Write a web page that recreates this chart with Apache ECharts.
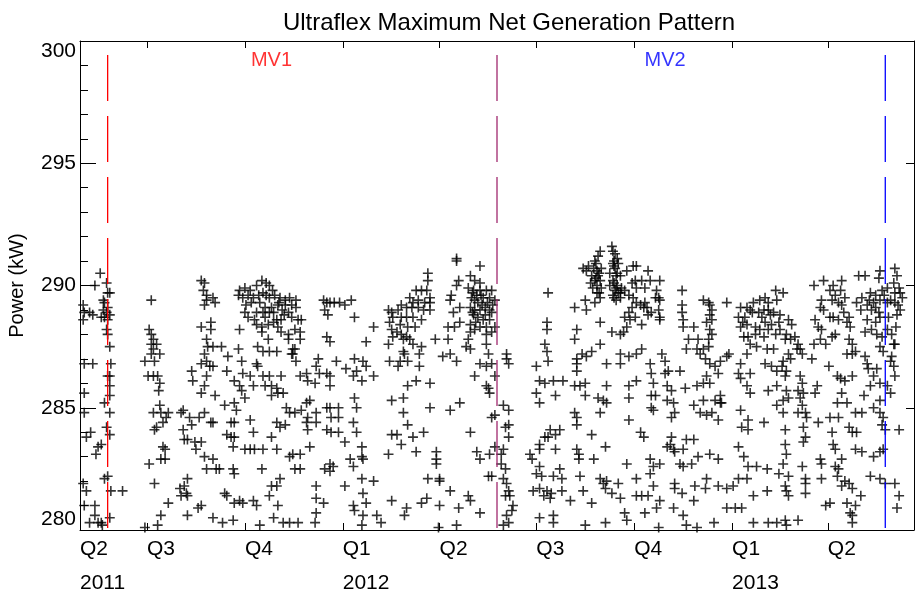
<!DOCTYPE html>
<html>
<head>
<meta charset="utf-8">
<title>Ultraflex Maximum Net Generation Pattern</title>
<script src="https://cdn.jsdelivr.net/npm/echarts@6/dist/echarts.min.js"></script>
<style>
  html, body { margin: 0; padding: 0; background: #fff; }
  #chart { width: 915px; height: 593px; }
</style>
</head>
<body>
<div id="chart"></div>
<script>
// x = days since 2011-01-01, y = max net generation (kW)
var pts2011a = [
  [121,289.2],[122,288.9],[121,288.6],[127,288.9],[130,288.8],[122,286.8],[130,286.8],[122,285.6],[122,284.8],
  [124,283.8],[128,284.0],[135,283.4],[138,283.5],[133,283.1],[121,281.9],[124,281.6],[122,281.0],[132,281.0],
  [132,280.6],[127,280.3],[135,280.3],[138,280.3],[141,282.1],[132,290.0],[137,290.5],[143,290.1],[144,289.7],
  [146,289.7],[140,289.4],[141,289.3],[144,289.1],[140,289.0],[143,288.9],[146,288.8],[138,288.7],[141,288.7],
  [144,288.6],[143,288.2],[144,288.0],[146,287.5],[147,286.8],[144,286.3],[146,286.3],[146,285.9],[146,285.5],
  [141,285.2],[146,284.8],[143,284.2],[146,283.9],[144,282.2],[147,281.6],[146,280.5],[139,280.2],[158,281.6],
  [185,289.4],[183,288.2],[185,288.0],[187,287.8],[185,287.6],[190,287.6],[187,287.4],[185,287.2],[179,286.9],
  [188,286.9],[193,287.2],[182,286.3],[187,286.3],[191,286.3],[193,286.0],[192,285.7],[193,285.1],[187,284.8],
  [194,284.8],[201,284.8],[199,284.6],[196,284.4],[190,284.2],[188,284.1],[196,283.4],[198,283.3],[194,282.9],
  [198,282.9],[183,282.7],[188,281.9],[201,281.1],[194,280.6],[191,280.2],[179,280.1],
  [232,290.2],[235,290.1],[234,289.8],[237,289.6],[237,289.4],[243,289.5],[235,289.2],[245,289.3],[241,288.5],
  [232,288.3],[241,288.2],[237,287.8],[243,287.5],[238,287.5],[235,287.2],[237,286.9],[240,286.7],[243,286.7],
  [232,286.8],[223,286.5],[224,286.1],[237,286.3],[235,285.9],[232,285.6],[245,285.5],[215,284.9],[213,284.8],
  [221,284.6],[230,284.6],[223,284.3],[235,284.8],[241,284.4],[243,284.4],[215,284.1],[216,283.7],[219,283.7],
  [226,283.6],[232,283.6],[227,283.3],[235,283.0],[243,282.9],[237,282.5],[246,282.5],[219,282.1],[216,281.8],
  [213,281.4],[218,281.5],[219,281.4],[232,281.0],[229,280.9],[219,280.6],[243,280.5],[212,281.7]
];

var pts2011b = [
  [268,289.8],[273,289.9],[278,289.8],[284,290.0],[289,290.2],[293,290.1],[296,290.0],[267,289.6],[271,289.5],
  [276,289.6],[281,289.5],[290,289.7],[296,289.5],[301,289.6],[306,289.5],[311,289.4],[315,289.5],[321,289.4],
  [287,289.3],[292,289.1],[298,289.1],[304,289.2],[311,289.2],[317,289.2],[321,289.1],[274,289.2],[273,288.9],
  [276,288.7],[284,288.9],[290,288.9],[296,288.9],[303,288.6],[307,288.6],[314,288.9],[317,288.7],[323,288.6],
  [326,288.6],[284,288.4],[289,288.3],[295,288.4],[300,288.5],[304,288.3],[268,288.2],[289,288.1],[307,288.1],
  [314,288.0],[320,288.2],[325,288.1],[314,287.8],[325,287.8],[295,287.8],[320,287.4],[318,287.2],
  [279,289.3],[286,289.6],[293,289.6],[299,289.8],[305,289.3],[310,288.8],[282,288.6],[292,288.7],[300,288.9],
  [308,289.0],
  [347,289.4],[350,289.3],[353,289.3],[357,289.3],[362,289.3],[367,289.2],[373,289.4],[348,289.0],[351,288.8],
  [376,288.7],[350,287.9],[353,287.7],
  [251,287.5],[257,287.1],[267,287.4],[270,286.9],[285,287.5],[290,287.3],[296,287.3],[303,287.3],[318,287.4],
  [317,287.2],[321,286.9],[256,286.5],[263,286.1],[268,285.9],[270,285.7],[271,286.4],[278,286.3],[281,285.9],
  [284,286.8],[285,286.7],[290,286.3],[296,286.3],[307,286.3],[292,285.9],[298,285.9],[303,285.8],[304,285.6],
  [309,285.6],[298,285.5],[325,286.3],[331,286.4],[332,286.1],[339,286.0],[342,287.0],[340,286.7],[343,286.4],
  [350,286.4],[353,286.3],[353,285.9],[359,286.9],[368,286.6],[376,287.0],[375,286.3],[378,286.5],
  [254,285.1],[263,285.2],[265,284.9],[273,285.4],[312,285.0],[315,284.8],[320,284.8],[326,284.9],[331,285.2],
  [334,285.3],[332,284.6],[331,284.4],[332,284.1],[340,284.8],[340,284.4],[350,285.0],[353,285.0],[361,285.0],
  [376,285.4],[378,285.0],[354,284.6],[361,284.6],[260,284.4],[263,284.4],[278,284.5],[256,283.9],[260,283.8],
  [263,283.8],[262,283.4],[281,284.0],[303,284.4],[306,284.2],[298,283.8],[311,284.3],[350,284.1],[354,284.0],
  [361,284.0],[367,283.6],[375,284.4],[378,284.0],[273,283.3],[278,283.3],[282,283.3],[290,283.3],[303,283.3],
  [315,283.0],[318,283.1],[325,283.1],[334,283.4],
  [249,282.5],[262,282.5],[263,282.3],[289,282.5],[320,282.5],[325,282.5],[348,282.5],[353,282.7],[356,282.6],
  [353,282.4],[306,282.1],[298,281.8],[303,281.8],[340,281.8],[367,281.8],[372,282.9],[375,282.6],[254,281.5],
  [256,281.4],[263,281.1],[268,281.2],[271,281.1],[281,281.2],[284,281.0],[296,281.4],[304,281.0],[340,281.3],
  [347,281.1],[375,281.0],[376,280.8],[340,280.7],[252,280.3],[262,280.4],[287,280.2],[300,280.5],[309,280.3],
  [315,280.3],[323,280.3],[339,280.3]
];

var pts2012a = [
  [445,290.5],[445,290.2],[444,289.8],[439,289.8],[434,289.8],[447,289.5],[428,289.5],[436,289.4],[442,289.3],
  [447,289.3],[431,289.3],[420,289.2],[425,289.1],[430,289.1],[436,289.1],[441,289.0],[447,289.0],[408,289.0],
  [411,288.9],[417,289.0],[412,288.7],[420,288.7],[425,288.7],[431,288.7],[439,288.6],[409,288.5],[419,288.4],
  [426,288.3],[433,288.3],[411,288.2],[416,288.1],[420,288.0],[425,287.9],[422,287.8],[428,287.8],[412,287.9],
  [408,287.6],[394,288.3],[387,287.7],[452,287.8],[431,287.6],[439,287.5],[422,287.3],[423,287.2],[409,286.9],
  [419,286.9],[426,286.9],[417,286.7],[437,286.7],[384,286.9],[387,286.7],[394,286.3],[383,286.1],[426,285.9],
  [434,286.1],[447,286.0],[464,287.8],[459,287.1],[466,287.2],[472,286.9],[437,287.2],
  [472,291.1],[472,291.0],[494,290.8],[474,290.2],[472,290.0],[485,290.4],[489,290.2],[494,290.1],[483,289.9],
  [488,289.8],[494,289.8],[500,289.8],[505,289.8],[467,289.6],[466,289.4],[475,289.1],[469,288.9],[486,289.5],
  [489,289.4],[492,289.3],[497,289.5],[503,289.5],[508,289.4],[485,289.1],[489,289.0],[494,289.0],[499,289.1],
  [503,289.0],[488,288.8],[492,288.7],[499,288.8],[505,288.9],[464,288.3],[470,288.3],[475,288.5],[485,288.4],
  [494,288.3],[500,288.3],[508,288.3],[485,288.1],[489,288.2],[500,288.0],[505,288.1],[483,287.8],[500,287.6],
  [481,287.5],[485,287.4],[502,287.2],[494,286.8],[500,286.7],[505,286.8],[508,286.3],[489,286.3],[500,285.9],
  [502,285.8],[503,285.6],[505,284.6],[508,284.7],
  [487,289.7],[491,289.6],[496,289.2],[501,289.3],[506,289.2],[490,288.5],[497,288.6],[503,288.6],[487,288.9],
  [495,289.6],
  [411,285.3],[422,285.4],[422,284.8],[447,285.0],[466,284.9],[475,285.2],[426,284.3],[411,283.9],[416,283.9],
  [420,283.5],[431,283.8],[441,284.0],[485,284.0],[434,283.2],[408,283.1],[453,283.2],[453,282.9],[453,282.7],
  [445,282.1],[456,282.1],[456,282.0],[491,283.2],[494,282.9],[503,283.1],[508,283.4],[502,282.2],[505,282.2],
  [383,283.4],[383,283.0],[384,282.9],[383,282.1],[394,282.0],[384,281.5],[387,281.1],[384,280.6],[383,280.2],
  [397,280.6],[401,280.3],[411,281.2],[425,280.9],[423,280.6],[439,281.1],[444,281.3],[456,281.0],[466,281.6],
  [474,280.9],[483,281.4],[485,281.2],[494,280.7],[472,280.2],[455,280.1]
];

var pts2012b = [
  [618,291.6],[619,291.4],[621,291.3],[623,291.1],[607,291.4],[605,291.2],[602,291.0],[596,290.8],[601,290.7],
  [604,290.6],[608,290.7],[591,290.7],[594,290.6],[599,290.4],[605,290.4],[602,290.2],[607,290.2],[598,290.1],
  [604,290.0],[608,289.9],[604,289.7],[607,289.5],[602,289.3],[619,290.9],[624,290.9],[621,290.7],[616,290.5],
  [623,290.5],[626,290.4],[619,290.2],[616,290.0],[623,290.0],[627,289.9],[621,289.8],[626,289.7],[630,289.8],
  [619,289.6],[626,289.5],[634,289.6],[632,290.6],[638,290.8],[641,290.8],[640,290.2],[637,290.1],[641,289.9],
  [638,289.5],[641,289.3],[637,289.1],[634,288.9],[630,288.7],[635,288.6],[640,288.7],[632,288.3],[629,288.1],
  [626,288.0],[618,288.1],[607,288.5],[593,289.4],[594,289.0],[583,289.1],[585,288.2],[583,287.8],[558,289.7],
  [557,288.5],[557,288.2],[555,287.6],[557,287.3],[558,286.9],[547,286.7],[607,287.6],[599,287.3],[590,287.2],
  [594,287.1],[585,287.0],[585,286.8],[585,286.5],[613,286.8],[626,287.2],[634,287.1],[641,287.2],[626,286.8],
  [620,291.0],[620,290.8],[622,290.4],[620,290.1],[622,289.9],[624,289.7],[620,289.5],[622,289.4],
  [603,290.9],[606,290.5],[603,290.3],[600,289.9],[606,289.7],
  [550,286.1],[555,286.0],[563,286.1],[572,286.1],[547,285.6],[565,285.5],[550,285.2],[583,285.9],[588,285.9],
  [593,286.0],[593,285.5],[605,285.4],[610,285.3],[613,285.2],[613,285.9],[634,285.9],[634,285.4],[641,286.1],
  [607,284.8],[583,284.8],[585,284.6],[585,284.3],[599,283.9],[634,284.5],[560,284.1],[569,284.1],[555,283.8],
  [558,283.8],[565,283.9],[550,283.5],[519,287.2],[519,287.0],[521,286.8],[516,285.1],[521,284.9],[518,284.2],
  [521,284.3],[521,283.8],[516,283.3],[514,283.1],
  [550,283.3],[565,283.3],[585,283.3],[587,283.1],[587,282.9],[601,282.9],[612,283.4],[632,282.7],[541,283.1],
  [543,282.9],[550,282.6],[547,282.3],[552,282.2],[563,282.2],[569,282.5],[588,282.2],[571,282.1],[607,282.1],
  [610,281.9],[613,282.0],[624,281.9],[544,281.6],[550,281.7],[554,281.4],[557,281.6],[561,281.5],[560,281.3],
  [571,281.6],[579,281.2],[591,281.6],[599,281.1],[612,281.7],[618,281.5],[626,281.3],[641,282.1],[641,281.4],
  [514,282.7],[518,282.5],[516,282.1],[519,281.9],[521,281.6],[518,281.4],[522,281.4],[525,281.0],[524,280.8],
  [519,280.6],[521,280.3],[516,280.2],[550,280.5],[563,280.6],[563,280.3],[593,280.2],[612,280.3],[630,280.7],
  [632,280.4]
];

var pts2012c = [
  [652,290.6],[654,290.2],[646,290.2],[663,290.2],[649,289.9],[660,289.8],[662,289.5],[663,289.4],[659,289.5],
  [645,289.2],[648,289.1],[651,289.1],[655,288.9],[662,289.0],[663,288.7],[663,288.6],[646,288.4],[652,288.8],
  [649,289.3],
  [684,289.8],[684,289.2],[684,288.9],[685,288.6],[685,288.3],[695,288.3],[704,289.4],[709,289.3],[710,289.2],
  [712,289.0],[710,288.8],[712,288.6],[707,288.5],[726,289.3],[710,288.2],[712,288.0],[709,287.8],[690,287.8],
  [699,287.8],[688,287.4],[698,287.4],[704,287.4],[709,287.5],[701,287.2],[706,287.0],[710,286.8],[715,286.7],
  [720,286.9],[726,287.1],[707,286.3],[718,286.4],[710,286.0],[704,286.0],[698,285.9],[687,285.8],[720,285.5],
  [715,285.3],[721,285.2],[704,285.3],[695,285.1],[701,284.8],[712,284.8],[707,284.7],[718,284.5],[720,285.2],
  [739,289.1],[745,289.1],[751,289.3],[757,289.4],[762,289.5],[765,289.3],[772,289.8],[773,289.4],[737,288.7],
  [743,288.7],[750,288.9],[756,288.9],[761,289.0],[765,289.0],[770,288.9],[739,288.3],[745,288.4],[753,288.3],
  [762,288.5],[768,288.4],[775,288.5],[742,287.9],[746,287.9],[753,288.0],[761,287.9],[765,288.2],[772,288.0],
  [748,287.6],[754,287.5],[764,287.4],[770,287.4],[745,287.2],[739,286.8],[737,286.4],[748,286.4],[762,286.8],
  [768,286.7],[773,286.5],[739,286.2],[745,285.9],[748,285.6],[765,285.7],[773,285.9],[728,287.2],
  [748,289.0],[759,288.7],[767,288.8],[741,288.5],[757,288.2],
  [646,287.4],[665,287.2],[654,286.8],[655,286.4],[668,286.9],[671,286.5],[668,286.4],[682,286.5],[657,286.0],
  [670,285.9],[674,285.7],[655,285.5],[659,285.5],[655,285.0],[657,284.9],[670,285.3],[676,285.2],[677,284.8],
  [674,284.6],[645,284.0],[648,283.8],[674,283.8],[673,283.5],[670,283.4],[676,283.3],[688,283.7],[695,283.7],
  [685,283.3],[677,283.2],[654,282.9],[657,282.6],[663,282.7],[682,282.7],[685,282.6],[693,282.7],[699,283.0],
  [710,283.1],[718,282.9],
  [739,284.9],[746,284.5],[740,284.2],[746,284.1],[761,284.4],[773,285.1],[737,283.4],[742,283.0],[746,282.6],
  [754,282.6],[764,282.5],[775,282.3],
  [654,282.3],[657,281.8],[646,281.4],[652,281.4],[663,281.2],[649,280.7],[660,280.9],[677,281.9],[684,281.5],
  [677,281.7],[696,281.8],[706,281.7],[707,282.1],[718,281.8],[726,281.7],[732,281.8],[737,282.1],[745,282.1],
  [695,281.2],[685,280.6],[676,280.9],[714,280.3],[726,280.9],[734,280.9],[740,280.9],[751,281.4],[751,280.3],
  [764,281.6],[765,280.3],[773,280.3],[662,280.1],[688,280.2],[698,280.1]
];

var pts2013a = [
  [779,289.7],[776,288.8],[784,288.6],[787,288.4],[776,288.2],[782,288.0],[781,287.8],[786,287.8],[790,287.9],
  [793,287.6],[792,287.4],[795,287.4],[797,287.2],[784,287.2],[779,286.9],[786,287.0],[778,286.7],[782,286.5],
  [781,286.3],[795,286.3],[797,286.0],[793,285.7],[798,285.6],[782,285.7],[779,285.3],[784,285.4],[795,285.4],
  [797,285.1],[793,284.8],[800,284.8],[779,284.8],[801,284.6],[798,284.2],[781,284.1],[800,283.8],[798,283.6],
  [781,283.5],[782,283.1],[779,282.7],[797,282.6],[784,282.2],[800,282.1],[800,281.9],[781,281.8],[800,281.5],
  [784,281.4],[782,281.6],[781,280.4],[793,280.4],[782,280.2],
  [808,290.0],[817,290.2],[823,289.8],[826,290.0],[828,289.6],[833,289.8],[834,290.2],[825,289.4],[831,289.3],
  [834,289.2],[837,289.5],[815,289.4],[814,289.1],[817,289.0],[809,288.6],[812,288.3],[815,288.2],[823,288.7],
  [826,288.7],[836,288.9],[831,288.6],[839,288.5],[842,288.3],[841,288.7],[808,287.6],[814,287.8],[819,287.6],
  [825,287.9],[828,288.0],[841,287.8],[844,287.6],[839,287.2],[844,287.2],[847,287.3],[806,287.0],[822,286.7],
  [830,286.3],[833,286.2],[837,286.1],[844,286.3],[811,285.9],[809,285.6],[834,285.6],[830,285.2],[839,285.2],
  [847,284.8],[853,284.8],[823,284.6],[831,284.6],[812,284.4],[825,284.0],[841,284.2],[844,284.0],[848,284.0],
  [826,283.5],[828,283.3],[847,283.3],[853,283.2],[814,282.9],[815,282.7],[834,282.9],[828,282.6],[831,282.5],
  [815,282.1],[830,282.2],[837,282.0],[834,281.8],[841,281.9],[844,281.7],[852,281.4],[819,281.0],[823,281.1],
  [839,281.1],[847,281.0],[842,280.7],[844,280.6],[844,280.3],
  [850,290.4],[856,290.4],[869,290.3],[870,290.6],[884,290.7],[886,290.4],[883,290.1],[888,289.9],[884,289.7],
  [891,289.5],[877,289.9],[872,289.8],[861,289.7],[853,289.5],[848,289.3],[858,289.2],[864,289.3],[870,289.4],
  [877,289.3],[884,289.3],[889,289.0],[886,288.8],[862,289.0],[869,288.9],[870,288.7],[866,288.5],[858,288.6],
  [856,288.1],[862,288.2],[867,288.0],[872,287.9],[877,288.2],[881,288.0],[883,287.6],[884,287.6],[870,287.5],
  [873,287.3],[881,287.1],[880,286.9],[883,286.7],[884,286.3],[856,287.1],[858,286.8],[859,286.6],[867,286.6],
  [864,286.3],[861,285.9],[870,286.0],[877,285.9],[880,285.6],[870,285.3],[855,285.5],[864,285.0],[870,284.8],
  [872,284.3],[875,284.1],[888,284.1],[873,283.3],[870,283.2],[864,283.0],[861,282.2],[870,282.1],[875,281.9],
  [884,281.9],[888,281.4],[886,280.9],[873,284.6],
  [852,289.0],[860,289.4],[866,289.6],[874,289.6],[880,289.4],[887,289.2],[878,288.7],[866,289.1],[889,289.7],
  [885,288.3]
];

// quarter starts (days since 2011-01-01)
var quarterDays = [181, 273, 365, 456, 547, 639, 731, 821];
var labelDays = [118, 181, 273, 365, 456, 547, 639, 731, 821];
var labelText = ['Q2\n2011', 'Q3', 'Q4', 'Q1\n2012', 'Q2', 'Q3', 'Q4', 'Q1\n2013', 'Q2'];

// model version change dates (days) and colours
var mvDays = [144, 510, 875];
var mvColors = ['#ff0000', '#a0286e', '#0000ff'];
var mvNames = ['MV1', 'MV2'];
var mvNameDays = [298, 668];
var mvNameColors = ['#ff0000', '#0000ff'];

var allPts = [].concat(pts2011a, pts2011b, pts2012a, pts2012b, pts2012c, pts2013a);

var chart = echarts.init(document.getElementById('chart'));
var font = 'Liberation Sans, Arial, sans-serif';

var series = [{
  type: 'scatter',
  data: allPts,
  symbol: 'path://M4.2,0H5.8V10H4.2Z M0,4.2H10V5.8H0Z',
  symbolSize: 10,
  itemStyle: { color: '#000' },
  z: 2
}];

// dashed vertical lines
mvDays.forEach(function (d, i) {
  series.push({
    type: 'line',
    data: [[d, 299.43], [d, 280]],
    symbol: 'none',
    lineStyle: { color: mvColors[i], width: 1.3, type: [46, 15] },
    z: 3
  });
});

// MV1 / MV2 text
series.push({
  type: 'scatter',
  data: mvNameDays.map(function (d, i) {
    return {
      value: [d, 299.2],
      label: { show: true, position: 'inside', formatter: mvNames[i], color: mvNameColors[i],
               fontSize: 20, fontFamily: font }
    };
  }),
  symbolSize: 1,
  itemStyle: { color: 'rgba(0,0,0,0)' },
  z: 4
});

var option = {
  animation: false,
  backgroundColor: '#fff',
  title: {
    text: 'Ultraflex Maximum Net Generation Pattern',
    left: 504, top: 6, textAlign: 'center',
    textStyle: { fontSize: 24, fontWeight: 'normal', color: '#000', fontFamily: font }
  },
  grid: { left: 80, right: 1, top: 41, bottom: 63, outerBoundsMode: 'none', containLabel: false },
  xAxis: [{
    type: 'value', min: 118, max: 902, position: 'bottom',
    axisLine: { lineStyle: { color: '#000', width: 1 } },
    axisTick: { show: true, inside: true, length: 7, customValues: quarterDays, lineStyle: { color: '#000' } },
    axisLabel: {
      customValues: labelDays, showMinLabel: true, align: 'left', margin: 2,
      fontSize: 21, lineHeight: 34, color: '#000', fontFamily: font,
      formatter: function (v) { return labelText[labelDays.indexOf(v)] || ''; }
    },
    splitLine: { show: false }
  }, {
    type: 'value', min: 118, max: 902, position: 'top',
    axisLine: { lineStyle: { color: '#000', width: 1 } },
    axisTick: { show: true, inside: true, length: 7, customValues: quarterDays, lineStyle: { color: '#000' } },
    axisLabel: { show: false },
    splitLine: { show: false }
  }],
  yAxis: [{
    type: 'value', min: 280, max: 300, interval: 5, position: 'left',
    name: 'Power (kW)', nameLocation: 'middle', nameGap: 53, nameRotate: 90,
    nameTextStyle: { fontSize: 20, color: '#000', fontFamily: font },
    axisLine: { show: true, lineStyle: { color: '#000', width: 1 } },
    axisTick: { show: true, inside: true, length: 16, lineStyle: { color: '#000' } },
    minorTick: { show: true, splitNumber: 5, length: 8, lineStyle: { color: '#000' } },
    axisLabel: {
      fontSize: 21, color: '#000', margin: 4, fontFamily: font,
      verticalAlignMaxLabel: 'top', verticalAlignMinLabel: 'bottom'
    },
    splitLine: { show: false }
  }, {
    type: 'value', min: 280, max: 300, interval: 5, position: 'right',
    axisLine: { show: true, lineStyle: { color: '#000', width: 1 } },
    axisTick: { show: true, inside: true, length: 8, lineStyle: { color: '#000' } },
    axisLabel: { show: false },
    splitLine: { show: false }
  }],
  series: series
};

chart.setOption(option);
</script>
</body>
</html>
